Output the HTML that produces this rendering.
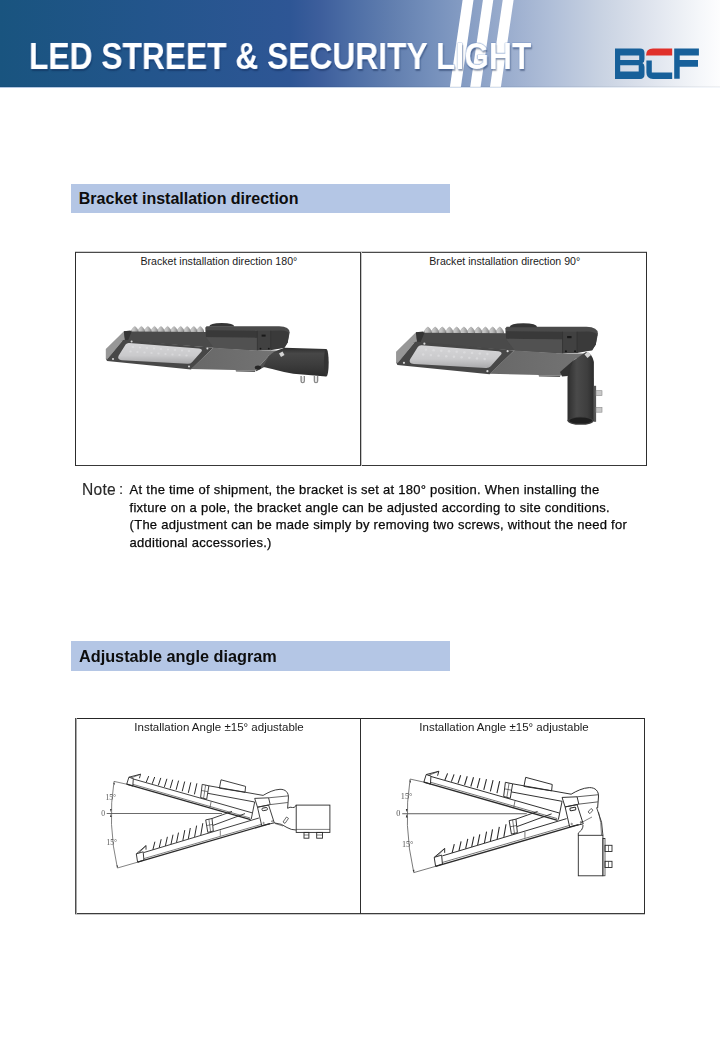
<!DOCTYPE html>
<html>
<head>
<meta charset="utf-8">
<style>
html,body{margin:0;padding:0;background:#fff;width:720px;height:1040px;overflow:hidden;position:relative;font-family:"Liberation Sans",sans-serif;}
.abs{position:absolute;white-space:nowrap;line-height:1;}
#hdr{position:absolute;left:0;top:0;width:720px;height:87px;
 background:linear-gradient(90deg,#19547F 0px,#23558C 150px,#2E5695 290px,#3D5E9C 320px,#4C6DA5 350px,#6380B0 395px,#748FBB 430px,#A3B4D2 525px,#AFBED8 550px,#C8D2E2 600px,#DAE0EB 640px,#F5F7FA 700px,#FDFDFE 720px);}
#hdr .bl{position:absolute;left:0;top:86px;width:720px;height:1px;background:rgba(0,10,40,0.05);}
#hdr .bl2{position:absolute;left:0;top:87px;width:720px;height:1px;background:linear-gradient(90deg,rgba(60,110,180,0.4),rgba(60,110,180,0.25) 60%,rgba(60,110,180,0.06));}
#title{left:28.6px;top:39px;font-size:36px;font-weight:bold;color:#fff;transform-origin:0 0;transform:scaleX(0.882);
 text-shadow:0 0 1px rgba(60,105,175,0.9),0 0 1px rgba(60,105,175,0.9),1px 1.5px 1.5px rgba(10,30,70,0.4);will-change:transform;}
.sec{position:absolute;left:71px;width:379px;height:29px;background:#B4C6E5;}
.sect{font-weight:bold;color:#0d0d0d;}
.tbl{position:absolute;border:1px solid #1a1a1a;box-sizing:border-box;}
.ln{position:absolute;}
.ch{color:#1a1a1a;}
.note{font-size:13px;letter-spacing:0.26px;color:#0a0a0a;-webkit-text-stroke:0.25px #0a0a0a;}
</style>
</head>
<body>
<div id="hdr">
 <svg width="720" height="87" style="position:absolute;left:0;top:0">
  <polygon points="462.6,0 473.5,0 460.9,87 449.9,87" fill="#fff"/>
  <polygon points="482.9,0 493.3,0 480.6,87 470.2,87" fill="#fff"/>
  <polygon points="502.7,0 513.6,0 500.9,87 490,87" fill="#fff"/>
 </svg>
 <div class="abs" id="title">LED STREET &amp; SECURITY LIGHT</div>
 <svg width="90" height="40" viewBox="610 44 90 40" style="position:absolute;left:610px;top:44px">
  <!-- B -->
  <path fill="#17609A" fill-rule="evenodd" d="M615,48.6 H640 Q644.5,48.6 644.5,53 V59 Q644.5,62 642.5,63 Q644.5,64 644.5,67 V74.6 Q644.5,79 640,79 H615 Z M620.2,55.6 V60 H639.2 V55.6 Z M620.2,65.3 V71.6 H638.7 V65.3 Z"/>
  <!-- C red top -->
  <path fill="#E0302A" d="M646,55.6 Q646,48.6 653,48.6 H672.2 V55.6 Z"/>
  <!-- C blue -->
  <path fill="#17609A" d="M646.4,60.5 H651.8 V72.6 H672.2 V79 H653 Q646.4,79 646.4,72.6 Z"/>
  <!-- F -->
  <path fill="#17609A" d="M674.2,48.6 H698.9 V55.6 H679.7 V60 H698 V66.8 H679.7 V78.8 H674.2 Z"/>
 </svg>
 <div class="bl"></div>
 <div class="bl2"></div>
</div>

<div class="sec" style="top:184px"></div>
<div class="abs sect" style="left:78.8px;top:191px;font-size:16px">Bracket installation direction</div>

<div class="ln" style="left:75px;top:251px;width:572px;height:1px;background:#d0d0d0"></div>
<div class="ln" style="left:75px;top:252px;width:572px;height:1px;background:#4a4a4a"></div>
<div class="ln" style="left:75px;top:465px;width:572px;height:1px;background:#383838"></div>
<div class="ln" style="left:75px;top:252px;width:1px;height:214px;background:#2c2c2c"></div>
<div class="ln" style="left:360px;top:252px;width:1px;height:214px;background:#383838"></div>
<div class="ln" style="left:361px;top:252px;width:1px;height:214px;background:#c8c8c8"></div>
<div class="ln" style="left:646px;top:252px;width:1px;height:214px;background:#2e2e2e"></div>
<div class="abs ch" style="left:140.5px;top:256.3px;font-size:10.6px">Bracket installation direction 180°</div>
<div class="abs ch" style="left:429.3px;top:256.3px;font-size:10.6px">Bracket installation direction 90°</div>

<svg width="720" height="1040" viewBox="0 0 720 1040" style="position:absolute;left:0;top:0">
 <defs>
  <linearGradient id="lensG" x1="0" y1="0" x2="0" y2="1">
   <stop offset="0" stop-color="#d6d6d8"/><stop offset="0.6" stop-color="#cacacc"/><stop offset="1" stop-color="#a9a9ab"/>
  </linearGradient>
  <linearGradient id="finG" x1="0" y1="0" x2="1" y2="0">
   <stop offset="0" stop-color="#cfcfcf"/><stop offset="0.45" stop-color="#bdbdbd"/><stop offset="1" stop-color="#8e8e8e"/>
  </linearGradient>
  <linearGradient id="pipeG" x1="0" y1="0" x2="0" y2="1">
   <stop offset="0" stop-color="#2e2e2e"/><stop offset="0.2" stop-color="#474747"/><stop offset="0.6" stop-color="#3c3c3c"/><stop offset="1" stop-color="#2c2c2c"/>
  </linearGradient>
  <linearGradient id="vpipeG" x1="0" y1="0" x2="1" y2="0">
   <stop offset="0" stop-color="#2e2e2e"/><stop offset="0.35" stop-color="#4a4a4a"/><stop offset="0.75" stop-color="#3e3e3e"/><stop offset="1" stop-color="#2c2c2c"/>
  </linearGradient>
  <linearGradient id="plateG" x1="0" y1="0" x2="1" y2="0">
   <stop offset="0" stop-color="#686868"/><stop offset="1" stop-color="#747474"/>
  </linearGradient>
  <g id="body">
   <!-- fins -->
   <polygon fill="#6a6a6a" points="131,332.6 131,330.5 204,330.5 204,332.6"/>
   <g fill="url(#finG)" stroke="#7a7a7a" stroke-width="0.3"><path d="M131.6,332.6 L131.8,329.6 Q133.6,326.6 134.8,326.4 Q136.0,326.6 137.8,329.6 L138.0,332.6 Z"/><path d="M138.2,332.6 L138.4,329.6 Q140.2,326.6 141.4,326.4 Q142.6,326.6 144.4,329.6 L144.6,332.6 Z"/><path d="M144.7,332.6 L144.9,329.6 Q146.7,326.6 147.9,326.4 Q149.1,326.6 150.9,329.6 L151.1,332.6 Z"/><path d="M151.3,332.6 L151.5,329.6 Q153.3,326.6 154.5,326.4 Q155.7,326.6 157.5,329.6 L157.7,332.6 Z"/><path d="M157.8,332.6 L158.0,329.6 Q159.8,326.6 161.0,326.4 Q162.2,326.6 164.0,329.6 L164.2,332.6 Z"/><path d="M164.4,332.6 L164.6,329.6 Q166.4,326.6 167.6,326.4 Q168.8,326.6 170.6,329.6 L170.8,332.6 Z"/><path d="M170.9,332.6 L171.1,329.6 Q172.9,326.6 174.1,326.4 Q175.3,326.6 177.1,329.6 L177.3,332.6 Z"/><path d="M177.5,332.6 L177.7,329.6 Q179.5,326.6 180.7,326.4 Q181.8,326.6 183.7,329.6 L183.8,332.6 Z"/><path d="M184.0,332.6 L184.2,329.6 Q186.0,326.6 187.2,326.4 Q188.4,326.6 190.2,329.6 L190.4,332.6 Z"/><path d="M190.6,332.6 L190.8,329.6 Q192.6,326.6 193.8,326.4 Q194.9,326.6 196.8,329.6 L196.9,332.6 Z"/><path d="M197.1,332.6 L197.3,329.6 Q199.1,326.6 200.3,326.4 Q201.5,326.6 203.3,329.6 L203.5,332.6 Z"/></g>
   <!-- left end face -->
   <polygon fill="#979797" points="105.8,349 123.9,331.3 124.5,340 123.3,339.7 107.2,359.5 105.8,358.8"/>
   <!-- front dark band under fins -->
   <polygon fill="#4a4a4a" points="123.9,331.3 132,331.6 206,332 206,330 258,331 258,350.5 213.3,347.8 121,340.5 125,340"/>
   <polygon fill="#353535" points="123.9,331.3 130.5,330.6 131.5,332 128,340.6 124.6,340.2"/>
   <!-- rear housing -->
   <path fill="#4a4a4a" d="M205.3,327.8 L206.5,326.2 L279.2,326.2 Q289.7,326.6 289.7,332.5 L287.7,342.4 L284.4,347.7 L258,350.5 L214,348 L206,338 Z"/>
   <polygon fill="#393939" points="205.8,330.3 257.4,330.8 257.4,337.8 206,337.2"/>
   <polygon fill="#515151" points="206,337.2 257.4,337.8 257.4,350.4 214,348"/>
   <path fill="#3a3a3a" d="M270.6,330.8 L281,330.6 Q288.5,331 288.9,334 L287.7,342.4 L284.4,347.7 L270.6,350.2 Z"/>
   <polygon fill="#414141" points="257.4,330.8 270.6,330.8 270.6,350.2 257.4,350.4"/>
   <line x1="257.4" y1="330.8" x2="257.4" y2="350.4" stroke="#2e2e2e" stroke-width="0.6"/>
   <line x1="270.6" y1="330.8" x2="270.6" y2="350.2" stroke="#2e2e2e" stroke-width="0.6"/>
   <rect x="261.6" y="334.6" width="4" height="2" fill="#1a1a1a"/>
   <circle cx="260.5" cy="348.6" r="0.9" fill="#151515"/><circle cx="268.8" cy="348.6" r="0.9" fill="#151515"/>
   <!-- knob -->
   <path fill="#353535" d="M209.2,326.6 Q209.5,323 221.7,323 Q234,323 234.3,326.6 Z"/>
   <!-- underside frame -->
   <polygon fill="#474747" points="105.8,358.6 107.2,359.3 123.3,339.7 213.3,347.8 191,369.4 107,361"/>
   <!-- bottom plate -->
   <polygon fill="url(#plateG)" points="213.3,347.8 258,350.5 281,350.6 268.9,355.6 255.6,370.6 191,369"/>
   <polygon fill="#5a5a5a" points="235.6,370.3 255.6,370.6 255,372 236,371.6"/>
   <!-- lens -->
   <path fill="url(#lensG)" d="M118.6,355.8 L125.6,344.6 Q126.8,343 129,343.1 L199,348.4 Q203,349 201.5,351.5 L192,362.2 Q190.5,364 187.5,363.8 L122,360.2 Q116.8,359.6 118.6,355.8 Z"/>
   <g fill="#e4e4e6" opacity="0.55">
    <circle cx="133" cy="347" r="1.1"/><circle cx="140" cy="347.5" r="1.1"/><circle cx="147" cy="348" r="1.1"/><circle cx="154" cy="348.5" r="1.1"/><circle cx="161" cy="349" r="1.1"/><circle cx="168" cy="349.5" r="1.1"/><circle cx="175" cy="350" r="1.1"/><circle cx="182" cy="350.5" r="1.1"/><circle cx="189" cy="351" r="1.1"/>
    <circle cx="130.5" cy="351.5" r="1.1"/><circle cx="137.5" cy="352" r="1.1"/><circle cx="144.5" cy="352.5" r="1.1"/><circle cx="151.5" cy="353" r="1.1"/><circle cx="158.5" cy="353.5" r="1.1"/><circle cx="165.5" cy="354" r="1.1"/><circle cx="172.5" cy="354.5" r="1.1"/><circle cx="179.5" cy="355" r="1.1"/><circle cx="186.5" cy="355.5" r="1.1"/>
   </g>
   <!-- screws -->
   <g fill="#d8d8d8"><circle cx="113" cy="359" r="1"/><circle cx="131.6" cy="341.6" r="1"/><circle cx="207.4" cy="348.4" r="1"/><circle cx="189" cy="366.6" r="1"/></g>
   <!-- bottom edge shadow line -->
  </g>
 </defs>
 <!-- IMAGE 1 -->
 <use href="#body"/>
 <!-- horizontal pipe bracket -->
 <polygon fill="#505050" points="268.9,355.6 281,350.6 284.5,347.6 276,356 266,366 256.5,371.2 255.6,370.6"/>
 <path fill="url(#pipeG)" d="M284.4,347.8 L326,349 L326,376.5 L293.3,373.8 Q285,372.5 276,370 Q268,368 263.3,367 L268.9,356 Q273,351.5 284.4,347.8 Z"/>
 <ellipse cx="326.3" cy="362.7" rx="2.4" ry="13.8" fill="#333"/>
 <ellipse cx="258" cy="367.6" rx="3.2" ry="2" fill="#262626"/>
 <polygon fill="#d4d4d4" points="279,353.5 282.5,351.5 284.5,355 281,357"/>
 <g fill="none" stroke="#8a8a8a" stroke-width="1.4"><path d="M301.1,376 v5 q0,1.6 1.6,1.6 q1.6,0 1.6,-1.6 v-5"/><path d="M314.4,376 v5 q0,1.6 1.6,1.6 q1.6,0 1.6,-1.6 v-5"/></g>
 <g fill="#e0e0e0"><rect x="302.2" y="377" width="1.2" height="4"/><rect x="315.5" y="377" width="1.2" height="4"/></g>
 <!-- IMAGE 2 -->
 <use href="#body" transform="translate(279.9,-31.4) scale(1.098)"/>
 <!-- vertical pipe -->
 <path fill="url(#vpipeG)" d="M567.5,378 Q568,366 573,360.8 L586,352 Q592,353 593.9,362 L593.9,421 L567.5,421 Z"/>
 <polygon fill="#333" points="560,372 573,360.8 567.8,376 562,376.5"/>
 <ellipse cx="580.7" cy="420.8" rx="13.2" ry="4" fill="#3c3c3c"/>
 <ellipse cx="580.7" cy="420.6" rx="11.5" ry="3" fill="#1f1f1f"/>
 <polygon fill="#d4d4d4" points="584.5,354.5 588,351.5 591,355 587.5,358"/>
 <rect x="593.9" y="385.8" width="2.2" height="36" fill="#555"/>
 <g fill="#c8c8c8" stroke="#8a8a8a" stroke-width="0.6"><rect x="596" y="390.7" width="6" height="4.9"/><rect x="596" y="407.4" width="6" height="4.8"/></g>
</svg>

<div class="abs" style="left:82px;top:481.5px;font-size:15.6px;letter-spacing:0.25px;color:#2a2a2a;-webkit-text-stroke:0.15px #2a2a2a">Note</div>
<div class="abs" style="left:119px;top:481.3px;font-size:15px;color:#2a2a2a;-webkit-text-stroke:0.15px #2a2a2a">:</div>
<div class="abs note" style="left:129.6px;top:482.7px">At the time of shipment, the bracket is set at 180° position. When installing the</div>
<div class="abs note" style="left:129.6px;top:500.7px">fixture on a pole, the bracket angle can be adjusted according to site conditions.</div>
<div class="abs note" style="left:129.6px;top:517.8px">(The adjustment can be made simply by removing two screws, without the need for</div>
<div class="abs note" style="left:129.6px;top:535.7px">additional accessories.)</div>

<div class="sec" style="top:641px;height:30px"></div>
<div class="abs sect" style="left:79px;top:648.3px;font-size:16.25px">Adjustable angle diagram</div>

<div class="ln" style="left:75px;top:718px;width:570px;height:1px;background:#262626"></div>
<div class="ln" style="left:75px;top:913px;width:570px;height:1px;background:#3c3c3c"></div>
<div class="ln" style="left:75px;top:914px;width:570px;height:1px;background:#c8c8c8"></div>
<div class="ln" style="left:75px;top:718px;width:1px;height:196px;background:#4d4d4d"></div>
<div class="ln" style="left:76px;top:718px;width:1px;height:196px;background:#a8a8a8"></div>
<div class="ln" style="left:360px;top:718px;width:1px;height:196px;background:#2e2e2e"></div>
<div class="ln" style="left:644px;top:718px;width:1px;height:196px;background:#2e2e2e"></div>
<div class="abs ch" style="left:134.3px;top:722px;font-size:11.5px">Installation Angle ±15° adjustable</div>
<div class="abs ch" style="left:419.3px;top:722px;font-size:11.5px">Installation Angle ±15° adjustable</div>

<svg width="720" height="1040" viewBox="0 0 720 1040" style="position:absolute;left:0;top:0">
 <defs>
  <g id="arms" fill="none" stroke="#2a2a2a" stroke-width="0.9" stroke-linejoin="round">
   <!-- reference -->
   <g stroke="#5a5a5a" stroke-width="0.75">
    <line x1="106.7" y1="813.5" x2="222" y2="813.5" stroke-width="0.9"/>
    <path d="M114,781.4 Q107.3,824 117.4,868"/>
    <line x1="114" y1="781.4" x2="126.7" y2="784.2"/>
    <line x1="117.4" y1="868" x2="137.6" y2="862.2"/>
   </g>
   <g fill="#333" stroke="none">
    <path d="M113.3,783 l1.4,-0.3 l-0.2,2.6 z"/>
    <path d="M110,809 h1.6 l-0.8,3 z"/><path d="M110,817 h1.6 l-0.8,-3 z"/>
    <path d="M116.4,865.5 l1.5,-0.1 l-0.2,2.4 z"/>
   </g>
   <g fill="#555" stroke="none" font-family="Liberation Serif" font-size="7.6">
    <text x="105.4" y="800">15°</text>
    <text x="101.2" y="815.9">0</text>
    <text x="106.4" y="844.6">15°</text>
   </g>
   <!-- UPPER ARM -->
   <line x1="126.7" y1="784.2" x2="250.6" y2="819.7" stroke-width="1.3"/>
   <line x1="132.8" y1="784.3" x2="250.2" y2="818" stroke-width="0.6"/>
   <line x1="133.3" y1="779" x2="252" y2="812.8"/>
   <line x1="211.1" y1="801.7" x2="210" y2="807.2" stroke-width="0.6"/>
   <polygon points="126.7,784.2 128.9,777.2 133.3,778.6 132.8,786.1"/>
   <polyline points="128.9,777.2 140.6,774.2 139.4,778.3"/>
   <line x1="131" y1="778" x2="140.6" y2="774.2" stroke-width="0.6"/>
   <path stroke-width="1" d="M146.2,782.3L148.7,776.1M152.2,783.8L154.7,777.0M158.3,785.4L160.8,777.9M164.4,786.9L166.9,778.8M170.2,788.3L172.7,779.7M176.1,789.8L178.6,780.6M182.2,791.3L184.7,781.5M188.3,792.9L190.8,782.4M194.4,794.4L196.9,783.3"/>
   <polygon points="202.2,784.4 208.9,785.8 206.7,799.2 200.6,797.5"/>
   <line x1="205.6" y1="785.2" x2="203.6" y2="798.2" stroke-width="0.6"/>
   <line x1="201.7" y1="790.5" x2="207.9" y2="791.7" stroke-width="0.6"/>
   <line x1="208.9" y1="785.8" x2="263.1" y2="795.4"/>
   <line x1="207.8" y1="793.3" x2="254.7" y2="802"/>
   <polygon points="219.4,788.2 221,779.8 245.6,786.4 245,792.3"/>
   <line x1="254.7" y1="802" x2="251.25" y2="819"/>
   <polygon points="254.7,798.4 268.6,797.8 270.2,804.6 257.5,807.2"/>
   <path d="M263.1,795.4 C268,792.5 274,789.5 280,789.3 C285.5,789.2 288.8,792.5 288.4,798 L287.6,808.3"/>
   <line x1="268.6" y1="797.8" x2="288.2" y2="795.9" stroke-width="0.7"/>
   <line x1="270.2" y1="804.6" x2="287.8" y2="802.5" stroke-width="0.7"/>
   <!-- connector -->
   <polygon points="257.5,807.2 268.6,805.1 274.3,822.9 261.7,825.6"/>
   <rect x="262" y="807.8" width="5.4" height="2.6" rx="1" transform="rotate(-10 264.7 809.1)"/>
   <circle cx="263.6" cy="823" r="0.7" stroke-width="0.5"/><circle cx="272.2" cy="821.3" r="0.7" stroke-width="0.5"/>
   <!-- LOWER ARM -->
   <line x1="137.6" y1="862.2" x2="270" y2="823.6" stroke-width="1.3"/>
   <line x1="143.9" y1="858.6" x2="262" y2="824.2" stroke-width="0.6"/>
   <line x1="143.9" y1="852.5" x2="258.9" y2="818"/>
   <line x1="220.3" y1="830.3" x2="220.3" y2="835.8" stroke-width="0.6"/>
   <polygon points="136.3,853.9 143.2,851.8 143.9,860.1 137.6,862.2"/>
   <polyline points="136.3,853.9 146,845.6 146,849.7"/>
   <line x1="139" y1="853" x2="146" y2="845.6" stroke-width="0.6"/>
   <path stroke-width="1" d="M152.9,849.7L154.9,841.7M159.2,847.8L161.2,839.2M165.4,845.9L167.4,836.8M171.0,844.2L173.0,834.7M176.5,842.5L178.5,832.6M182.8,840.6L184.8,830.1M188.3,838.9L190.3,828.0M194.6,836.9L196.6,825.6M200.8,835.0L202.8,823.2"/>
   <polygon points="205.7,819.9 212,818.5 213.3,831 207.8,832.4"/>
   <line x1="208.9" y1="819.2" x2="210.6" y2="831.7" stroke-width="0.6"/>
   <line x1="206.6" y1="825.6" x2="212.6" y2="824.4" stroke-width="0.6"/>
   <line x1="212" y1="818.5" x2="232" y2="811.4"/>
   <line x1="213" y1="825.4" x2="245" y2="813.6"/>
  </g>
 </defs>
 <use href="#arms"/>
 <use href="#arms" transform="translate(287,-64.84) scale(1.08)"/>
 <!-- bracket 1 (horizontal) -->
 <g fill="none" stroke="#2a2a2a" stroke-width="0.9">
  <rect x="296.2" y="805.1" width="33.7" height="27.3"/>
  <line x1="296.2" y1="829.4" x2="329.9" y2="829.4" stroke-width="0.6"/>
  <path d="M287.6,808.3 Q290,806.5 292.5,807.5 Q294.5,808.5 296.2,805.1"/>
  <path d="M274.3,822.9 Q282,823.5 287,827.5 Q291,830 296.2,830"/>
  <path d="M283,822 l3.5,-5 l2,1.4 l-3.5,5 z" stroke-width="0.7"/>
  <line x1="275" y1="823.5" x2="283" y2="826" stroke-width="0.6"/>
  <rect x="304" y="832.4" width="4.9" height="5.8"/><line x1="304" y1="835" x2="308.9" y2="835" stroke-width="0.6"/>
  <rect x="316.7" y="832.4" width="5.8" height="5.8"/><line x1="316.7" y1="835" x2="322.5" y2="835" stroke-width="0.6"/>
 </g>
 <!-- bracket 2 (vertical) -->
 <g fill="none" stroke="#2a2a2a" stroke-width="0.9">
  <rect x="578.3" y="835.3" width="24.6" height="40.5"/>
  <line x1="602.9" y1="838.5" x2="605" y2="838.5" stroke-width="0.7"/>
  <rect x="602.9" y="838.5" width="2.1" height="37.3" stroke-width="0.7"/>
  <rect x="605" y="845.3" width="7" height="6.2"/><line x1="608.5" y1="845.3" x2="608.5" y2="851.5" stroke-width="0.6"/>
  <rect x="605" y="861.3" width="7" height="6.2"/><line x1="608.5" y1="861.3" x2="608.5" y2="867.5" stroke-width="0.6"/>
  <path d="M578.3,835.3 L578.3,833 Q582.5,830 582.8,827.2 L583,825"/>
  <path d="M602.9,835.3 Q603,822 597.4,809.9 L596.5,807.5"/>
  <path d="M598.5,812 Q601.5,822 601.5,835" stroke-width="0.6"/>
  <path d="M588,812 l3,-3.5 l2,1.6 l-3,3.5 z" stroke-width="0.7"/>
  <path d="M580,823.5 Q586,820 592,817" stroke-width="0.6"/>
 </g>
</svg>

</body>
</html>
